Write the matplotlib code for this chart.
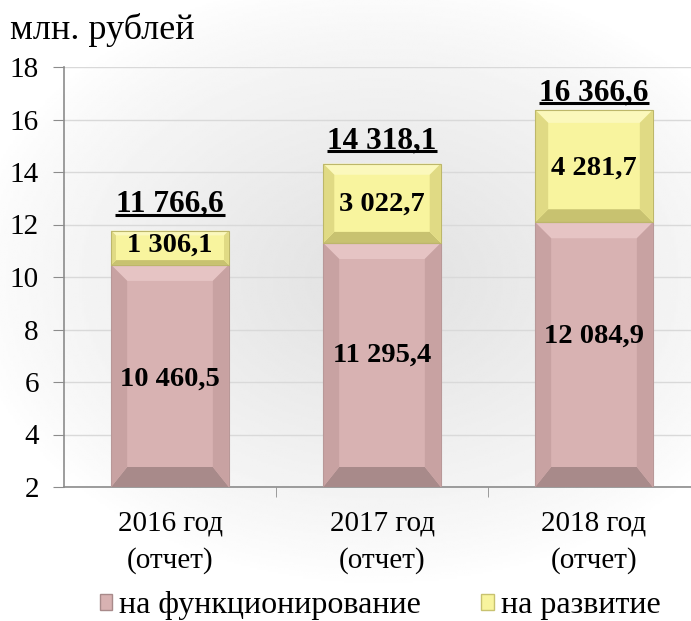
import numpy as np
import matplotlib
matplotlib.use('Agg')
import matplotlib.pyplot as plt
from matplotlib.patches import Polygon, Rectangle

# данные (тыс. млн. по оси, подписи в млн. рублей)
years = ['2016 год\n(отчет)', '2017 год\n(отчет)', '2018 год\n(отчет)']
func = [10460.5, 11295.4, 12084.9]
dev = [1306.1, 3022.7, 4281.7]
totals = [11766.6, 14318.1, 16366.6]
func_lbl_y = [6.1, 7.03, 7.75]
dev_lbl_y = [11.22, 12.78, 14.15]
tot_lbl_y = [12.48, 14.91, 16.74]

plt.rcParams['font.family'] = 'Liberation Serif'

def fmt(v):
    return f'{v:,.1f}'.replace(',', ' ').replace('.', ',')

fig = plt.figure(figsize=(6.91, 6.21), dpi=100)

# мягкая тень на фоне
bg = fig.add_axes([0, 0, 1, 1], zorder=-5)
yy, xx = np.mgrid[0:1:300j, 0:1:300j]
d = np.sqrt(((xx - 0.55) / 0.55) ** 2 + ((yy - 0.45) / 0.45) ** 2)
shade = 1 - 0.11 * np.clip(1.1 - d, 0, 1) ** 0.8
bg.imshow(shade, cmap='gray', vmin=0, vmax=1, extent=[0, 1, 0, 1], aspect='auto')
bg.axis('off')

ax = fig.add_axes([64 / 691, (621 - 487) / 621, 636 / 691, 420 / 621])
ax.patch.set_alpha(0)
ymin = 2
x = np.arange(len(years))
w = 0.555
fvals = np.array(func) / 1000
dvals = np.array(dev) / 1000
px_x, px_y = 212.0, 26.25  # пикселей на единицу

pink = dict(face='#d8b2b2', top='#e6c4c4', side='#c8a2a2', bot='#a88a8a', edge='#b89898')
yel = dict(face='#f8f49e', top='#fbf8bc', side='#e0da84', bot='#c8c270', edge='#bdb76a')

def bevel(ax, x0, y0, bw, bh, c, bpx, bpx_bot=None):
    bx, by = bpx / px_x, bpx / px_y
    bby = (bpx_bot if bpx_bot else bpx) / px_y
    x1, y1 = x0 + bw, y0 + bh
    ax.add_patch(Rectangle((x0, y0), bw, bh, facecolor=c['face'], edgecolor='none', zorder=3))
    ax.add_patch(Polygon([(x0, y1), (x1, y1), (x1 - bx, y1 - by), (x0 + bx, y1 - by)],
                         facecolor=c['top'], edgecolor='none', zorder=3.1))
    ax.add_patch(Polygon([(x0, y0), (x1, y0), (x1 - bx, y0 + bby), (x0 + bx, y0 + bby)],
                         facecolor=c['bot'], edgecolor='none', zorder=3.1))
    ax.add_patch(Polygon([(x0, y0), (x0, y1), (x0 + bx, y1 - by), (x0 + bx, y0 + bby)],
                         facecolor=c['side'], edgecolor='none', zorder=3.1))
    ax.add_patch(Polygon([(x1, y0), (x1, y1), (x1 - bx, y1 - by), (x1 - bx, y0 + bby)],
                         facecolor=c['side'], edgecolor='none', zorder=3.1))
    ax.add_patch(Rectangle((x0, y0), bw, bh, facecolor='none', edgecolor=c['edge'], lw=0.8, zorder=3.2))

for i in range(len(years)):
    hp = (fvals[i] - ymin) * px_y
    hy = dvals[i] * px_y
    bevel(ax, x[i] - w / 2, ymin, w, fvals[i] - ymin, pink, min(16, 0.16 * hp), 20)
    bevel(ax, x[i] - w / 2, fvals[i], w, dvals[i], yel, min(13, 0.14 * hy))
    ax.text(x[i], func_lbl_y[i], fmt(func[i]), ha='center', va='center',
            fontsize=20.5, fontweight='bold', zorder=5)
    ax.text(x[i], dev_lbl_y[i], fmt(dev[i]), ha='center', va='center',
            fontsize=20.5, fontweight='bold', zorder=5)
    ax.text(x[i], tot_lbl_y[i], fmt(totals[i]), ha='center', va='baseline',
            fontsize=22.5, fontweight='bold', zorder=5)
    # подчеркивание итога
    ax.plot([x[i] - 0.26, x[i] + 0.26], [tot_lbl_y[i] - 0.12] * 2, color='black',
            lw=2.2, solid_capstyle='butt', zorder=5)

ax.set_xlim(-0.5, 2.5)
ax.set_ylim(ymin, 18)
ax.set_yticks(range(2, 19, 2))
ax.set_xticks(x)
ax.set_xticklabels(years, fontsize=21, linespacing=1.5)
ax.set_xticks([0.5, 1.5], minor=True)
ax.tick_params(axis='x', which='major', length=0, pad=17)
ax.tick_params(axis='x', which='minor', length=7, color='#8c8c8c', direction='out')
ax.tick_params(axis='y', labelsize=21, length=8, color='#8c8c8c', direction='out', pad=10)
ax.grid(axis='y', color='#d9d9d9', lw=1, zorder=0)
ax.set_axisbelow(True)
for s in ['top', 'right']:
    ax.spines[s].set_visible(False)
for s in ['left', 'bottom']:
    ax.spines[s].set_color('#8c8c8c')
    ax.spines[s].set_linewidth(1.2)

fig.text(10 / 691, 1 - 30 / 621, 'млн. рублей', fontsize=26, va='center', ha='left')

h1 = Rectangle((0, 0), 1, 1, facecolor=pink['face'], edgecolor=pink['bot'])
h2 = Rectangle((0, 0), 1, 1, facecolor=yel['face'], edgecolor=yel['bot'])
fig.legend([h1, h2], ['на функционирование', 'на развитие'], loc='center',
           bbox_to_anchor=(380 / 691, 1 - 606 / 621), ncol=2, frameon=False,
           fontsize=23, handlelength=0.4, handleheight=0.4, handletextpad=0.2,
           columnspacing=1.9, borderpad=0)

fig.savefig('out.png', dpi=100)
